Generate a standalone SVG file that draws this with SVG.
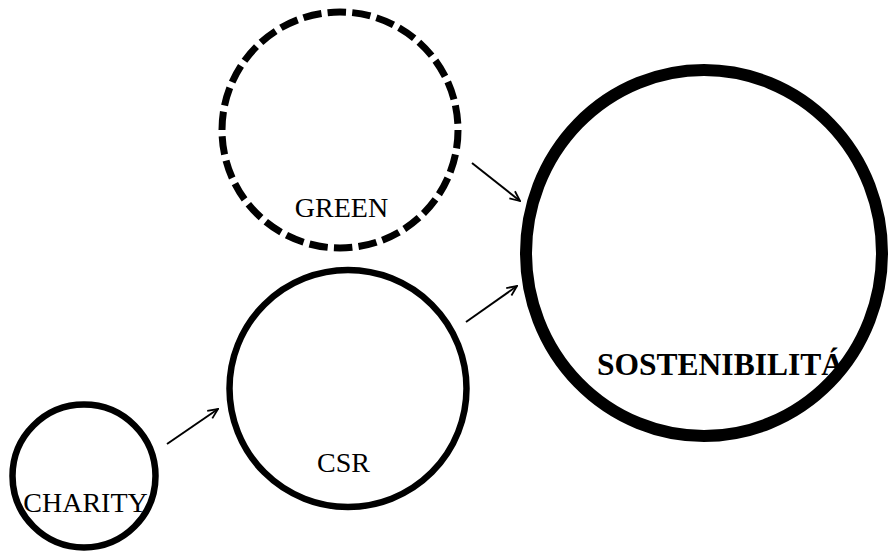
<svg xmlns="http://www.w3.org/2000/svg" width="888" height="551" viewBox="0 0 888 551">
<style>
.node{fill:none;stroke:#000}
.lbl{font-family:"Liberation Serif","Times New Roman",serif;font-size:28px;fill:#000;text-anchor:middle}
.bold{font-weight:bold;font-size:31.5px}
.conn{stroke:#000;stroke-width:2;fill:none;marker-end:url(#arr)}
</style>
<defs>
<marker id="arr" viewBox="0 0 12 12" refX="11" refY="6" markerWidth="12" markerHeight="12" markerUnits="userSpaceOnUse" orient="auto">
<path d="M1,1.5 L11,6 L1,10.5" fill="none" stroke="#000" stroke-width="1.8"/>
</marker>
</defs>
<rect width="888" height="551" fill="#fff"/>
<g id="connectors">
<line class="conn" x1="167" y1="444" x2="218" y2="409"/>
<line class="conn" x1="466" y1="322" x2="517" y2="286"/>
<line class="conn" x1="472" y1="163" x2="520" y2="201"/>
</g>
<g id="green">
<circle class="node" cx="340" cy="130" r="118" stroke-width="7" stroke-dasharray="18.5 6.2"/>
<text class="lbl" x="341.5" y="217">GREEN</text>
</g>
<g id="csr">
<circle class="node" cx="348" cy="388.5" r="118.5" stroke-width="6.5"/>
<text class="lbl" x="343.5" y="472">CSR</text>
</g>
<g id="charity">
<circle class="node" cx="84" cy="476" r="71.5" stroke-width="6.5"/>
<text class="lbl" x="85.5" y="512">CHARITY</text>
</g>
<g id="sostenibilita">
<ellipse class="node" cx="704" cy="253" rx="178" ry="183" stroke-width="12"/>
<text class="lbl bold" x="720.5" y="375">SOSTENIBILITÁ</text>
</g>
</svg>
